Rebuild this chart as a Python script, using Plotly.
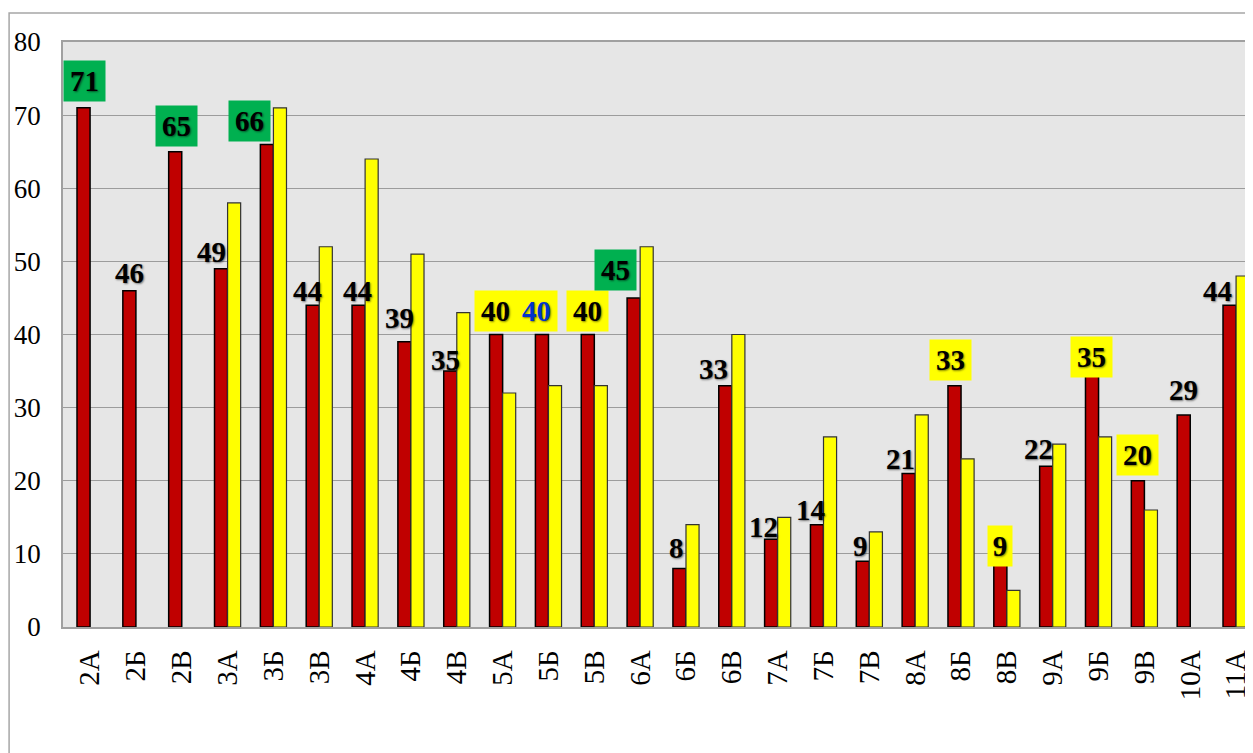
import plotly.graph_objects as go

categories = ["2А", "2Б", "2В", "3А", "3Б", "3В", "4А", "4Б", "4В", "5А", "5Б", "5В", "6А",
              "6Б", "6В", "7А", "7Б", "7В", "8А", "8Б", "8В", "9А", "9Б", "9В", "10А", "11А"]
red_values = [71, 46, 65, 49, 66, 44, 44, 39, 35, 40, 40, 40, 45,
              8, 33, 12, 14, 9, 21, 33, 9, 22, 35, 20, 29, 44]
yellow_values = [None, None, None, 58, 71, 52, 64, 51, 43, 32, 33, 33, 52,
                 14, 40, 15, 26, 13, 29, 23, 5, 25, 26, 16, None, 48]
y_ticks = [0, 10, 20, 30, 40, 50, 60, 70, 80]

# label styling (background highlight per category)
label_bg = ["green", None, "green", None, "green", None, None, None, None, "yellow", "yellow", "yellow", "green",
            None, None, None, None, None, None, "yellow", "yellow", None, "yellow", "yellow", None, None]
label_color = ["black"] * 10 + ["#0033cc"] + ["black"] * 15
# label offsets in pixels (horizontal from red bar centre, vertical above bar top)
label_dx = [1, 0, 1, -10, -17, -5, -1, -5, -5, -1, -5, 0, -18,
            -3, -12, -8, -6, -2, -8, -4, 0, -8, 0, 0, 0, -12]
label_dy = [27, 18, 26, 17, 23, 14, 14, 24, 11, 24, 24, 24, 28,
            21, 17, 12, 15, 15, 14, 26, 15, 17, 14, 26, 25, 14]

BG = {"green": "#00b050", "yellow": "#ffff00", None: "rgba(0,0,0,0)"}
FONT = "'Liberation Serif', 'Times New Roman', 'DejaVu Serif', serif"

fig = go.Figure()
fig.add_trace(go.Bar(x=categories, y=red_values, marker=dict(color="#c00000", line=dict(color="#000000", width=1.5)),
                     hoverinfo="x+y"))
fig.add_trace(go.Bar(x=categories, y=yellow_values, marker=dict(color="#ffff00", line=dict(color="#333333", width=1.2)),
                     hoverinfo="x+y"))

PAGE_OFF = 8  # default body margin of the html page
W, H = 1253, 745
L, R, T, B = 63 - PAGE_OFF, 0, 42 - PAGE_OFF, 126
plot_w = W - L - R
plot_h = H - T - B
bargap = 0.43
step = plot_w / len(categories)
bar_w = step * (1 - bargap) / 2

annotations = []
for i, (c, v) in enumerate(zip(categories, red_values)):
    bg = label_bg[i]
    ann = dict(x=c, y=v, xref="x", yref="y", text=f"<b>{v}</b>", showarrow=False,
               xanchor="center", yanchor="middle",
               xshift=-bar_w / 2 + label_dx[i], yshift=label_dy[i],
               font=dict(family=FONT, size=29, color=label_color[i],
                         shadow="1px 1px 2px rgba(0,0,0,0.5)"),
               bgcolor=BG[bg])
    if bg:
        ann.update(width=35 if v >= 10 else 18, height=34, borderpad=3)
    annotations.append(ann)

fig.update_layout(
    width=W, height=H,
    margin=dict(l=L, r=R, t=T, b=B),
    paper_bgcolor="white",
    plot_bgcolor="#e6e6e6",
    barmode="group",
    bargap=bargap,
    bargroupgap=0,
    showlegend=False,
    annotations=annotations,
    shapes=[dict(type="rect", xref="paper", yref="paper",
                 x0=(9 - 63) / plot_w, x1=1.1, y0=-0.5, y1=1 + (42 - 13) / plot_h,
                 line=dict(color="#a6a6a6", width=1.5), fillcolor="rgba(0,0,0,0)", layer="below")],
    xaxis=dict(type="category", tickangle=-90, showline=True, mirror=True, linecolor="#a0a0a0", linewidth=1.5,
               tickfont=dict(family=FONT, size=29, color="black"), ticks="", ticklabelstandoff=10,
               showgrid=False),
    yaxis=dict(range=[0, 80], tickvals=y_ticks, showline=True, mirror=True, linecolor="#a0a0a0", linewidth=1.5,
               gridcolor="#9c9c9c", gridwidth=1.3, zeroline=False, ticks="",
               tickfont=dict(family=FONT, size=27, color="black"), ticklabelstandoff=15),
)

fig.write_html("out.html")
